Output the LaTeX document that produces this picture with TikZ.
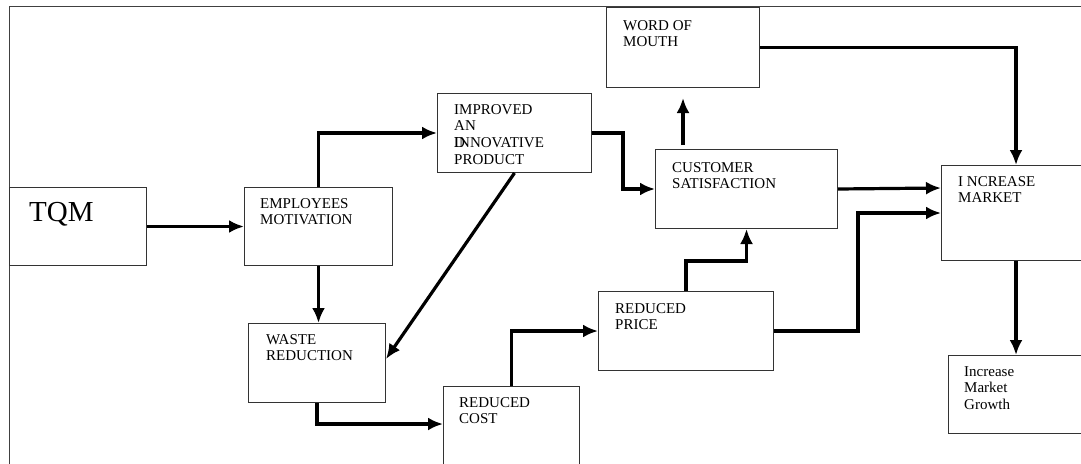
\documentclass[tikz,border=0pt]{standalone}
\usepackage{fontspec}
\setmainfont{Liberation Serif}
\usetikzlibrary{arrows.meta,calc}
\begin{document}
\begin{tikzpicture}[x=1pt,y=-1pt,
  box/.style={draw=black!80, line width=1pt, inner sep=0pt, anchor=north west},
  txt/.style={inner sep=0pt, anchor=north west, align=left, font=\fontsize{15}{16.7}\selectfont},
  arr/.style={line width=3.2pt, -{Latex[length=15pt,width=13pt]}}]
\useasboundingbox (0,0) rectangle (1081,463);
% open frame
\draw[black!75, line width=1pt] (1090,6) -- (9,6) -- (9,470);
% boxes
\node[box, minimum width=137pt, minimum height=78pt] (tqm) at (9,187) {};
\node[box, minimum width=148pt, minimum height=78pt] (emp) at (244,187) {};
\node[box, minimum width=154pt, minimum height=79pt] (imp) at (437,93) {};
\node[box, minimum width=153pt, minimum height=80pt] (wom) at (606,7) {};
\node[box, minimum width=182pt, minimum height=79pt] (cus) at (655,149) {};
\node[box, minimum width=149pt, minimum height=95pt] (im) at (941,165) {};
\node[box, minimum width=142pt, minimum height=78pt] (img) at (948,355) {};
\node[box, minimum width=137pt, minimum height=79pt] (waste) at (248,323) {};
\node[box, minimum width=136pt, minimum height=90pt] (rcost) at (443,386) {};
\node[box, minimum width=175pt, minimum height=79pt] (rprice) at (598,291) {};
% texts
\node[txt, font=\fontsize{29}{32}\selectfont] (ttqm) at (29,202) {TQM};
\node[txt] (temp) at (260,198) {EMPLOYEES\\MOTIVATION};
\node[txt] (timp) at (454,104) {IMPROVED\\AN\\\rlap{D}INNOVATIVE\\PRODUCT};
\node[txt] (twom) at (623,20) {WORD OF\\MOUTH};
\node[txt] (tcus) at (672,162) {CUSTOMER\\SATISFACTION};
\node[txt] (tim) at (958,176) {I NCREASE\\MARKET};
\node[txt] (timg) at (964,366) {Increase\\Market\\Growth};
\node[txt] (twaste) at (266,334) {WASTE\\REDUCTION};
\node[txt] (trcost) at (459,397) {REDUCED\\COST};
\node[txt] (trprice) at (615,303) {REDUCED\\PRICE};
% helper coordinates
\coordinate (rcin) at ($(rcost.north west)+(0,38)$);
\coordinate (cusup) at ($(cus.north west)+(28,-4)$);
\coordinate (womdn) at ($(wom.south west)+(77,10)$);
% connectors
\draw[arr] (tqm.east) -- (emp.west);
\draw[arr] (emp.north) |- (imp.west);
\draw[arr] (emp.south) -- (emp.south |- waste.north);
\draw[arr] (imp.south) -- ([yshift=4pt]waste.east);
\draw[arr] (imp.east) -- ++(31,0) |- (cus.west);
\draw[arr] (cusup) -- (cusup |- womdn);
\draw[arr] (wom.east) -| (im.north);
\draw[arr] (im.south) -- (im.south |- img.north);
\draw[arr] (cus.east) -- ([yshift=25pt]im.west);
\draw[arr] (rprice.east) -- ++(84,0) |- (im.west);
\draw[arr] (waste.south) |- (rcin);
\draw[arr] (rcost.north) |- (rprice.west);
\draw[arr] (rprice.north) -- ++(0,-30) -| (cus.south);
\end{tikzpicture}
\end{document}
